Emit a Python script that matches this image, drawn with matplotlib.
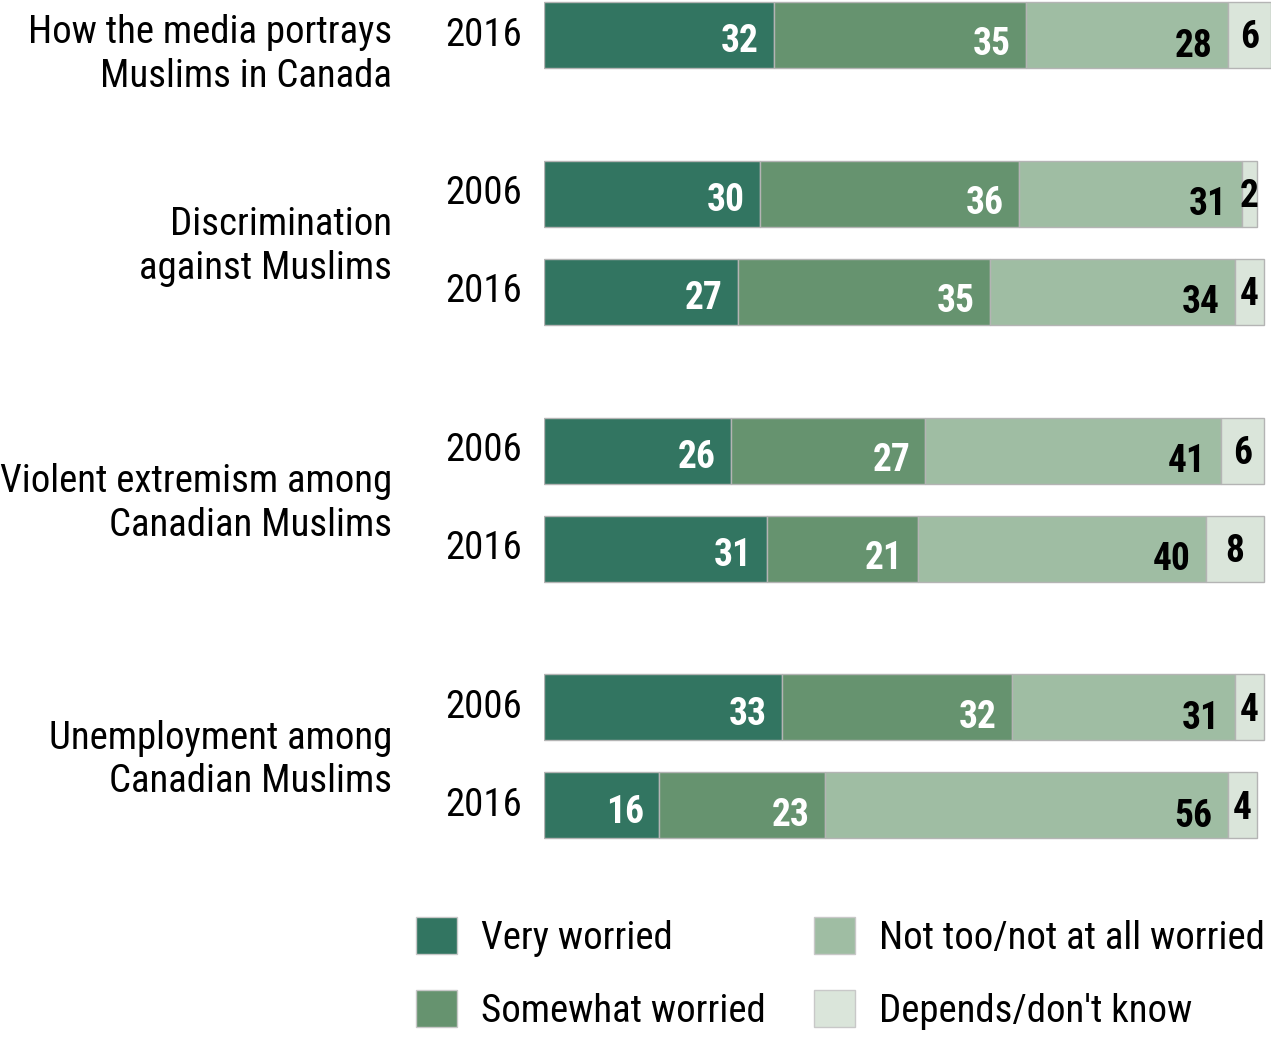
import numpy as np
import matplotlib
matplotlib.use("Agg")
import matplotlib.pyplot as plt
from matplotlib import transforms
from matplotlib.patches import Patch

plt.rcParams['font.family'] = ['Liberation Sans Narrow', 'Arial Narrow',
                               'Roboto Condensed', 'Archivo Narrow', 'DejaVu Sans']

# survey data: share of Canadian Muslims worried about each issue
topics = ["How the media portrays\nMuslims in Canada",
          "Discrimination\nagainst Muslims",
          "Violent extremism among\nCanadian Muslims",
          "Unemployment among\nCanadian Muslims"]
years = [["2016"], ["2006", "2016"], ["2006", "2016"], ["2006", "2016"]]

very_worried = [32, 30, 27, 26, 31, 33, 16]
somewhat_worried = [35, 36, 35, 27, 21, 32, 23]
not_worried = [28, 31, 34, 41, 40, 31, 56]
depends = [6, 2, 4, 6, 8, 4, 4]

series_names = ["Very worried", "Somewhat worried",
                "Not too/not at all worried", "Depends/don't know"]
colors = ["#327561", "#66936f", "#9fbda3", "#dae5da"]
label_colors = ["white", "white", "black", "black"]

W, H = 1276, 1038
fig = plt.figure(figsize=(W / 100, H / 100), dpi=100)

# one row per survey year, with extra space between topics
step_px = 98
pos = []
group_pos = []
p = 0.0
for yrs in years:
    g = []
    for _ in yrs:
        g.append(p)
        p += 1
    group_pos.append(g)
    pos.extend(g)
    p += 0.62
pos = np.array(pos)

x_max = 101
ax = fig.add_axes([544 / W, 0, 727 / W, 1])
top_px = 35
ax.set_ylim((H - top_px) / step_px, -top_px / step_px)
ax.set_xlim(0, x_max)
ax.axis("off")

data = np.array([very_worried, somewhat_worried, not_worried, depends])
lefts = np.zeros(len(pos))
bar_h = 66 / step_px
dy = [-5, -7, -8, -2]  # vertical nudge for value labels, in points
for i in range(4):
    vals = data[i]
    ax.barh(pos, vals, left=lefts, height=bar_h, color=colors[i],
            edgecolor="#b4b4b4", linewidth=1)
    for y, l, v in zip(pos, lefts, vals):
        if i < 3:
            ax.annotate(str(v), (l + v, y), xytext=(-11, dy[i]),
                        textcoords="offset points", ha="right", va="center",
                        fontsize=27, fontweight="bold", color=label_colors[i])
        else:
            ax.annotate(str(v), (l + v / 2, y), xytext=(0, dy[i]),
                        textcoords="offset points", ha="center", va="center",
                        fontsize=27, fontweight="bold", color=label_colors[i])
    lefts = lefts + vals

# year labels and topic labels to the left of the bars
tr = transforms.blended_transform_factory(fig.transFigure, ax.transData)
for yrs, g in zip(years, group_pos):
    for yr, y in zip(yrs, g):
        ax.text(522 / W, y, yr, transform=tr, ha="right", va="center",
                fontsize=28)
for name, g in zip(topics, group_pos):
    yc = np.mean(g) + 0.04 if len(g) > 1 else g[0] + 0.2
    ax.text(392 / W, yc, name, transform=tr, ha="right", va="center",
            fontsize=28, linespacing=1.22)

handles = [Patch(facecolor=c, edgecolor="#c8c8c8", linewidth=1) for c in colors]
fig.legend(handles, series_names, loc="upper left", ncol=2,
           bbox_to_anchor=(416 / W, 1 - 917 / H), frameon=False,
           fontsize=28, borderpad=0, borderaxespad=0,
           handlelength=1.05, handleheight=1.1, handletextpad=0.62,
           columnspacing=1.25, labelspacing=0.85)

fig.savefig("out.png", dpi=100)
